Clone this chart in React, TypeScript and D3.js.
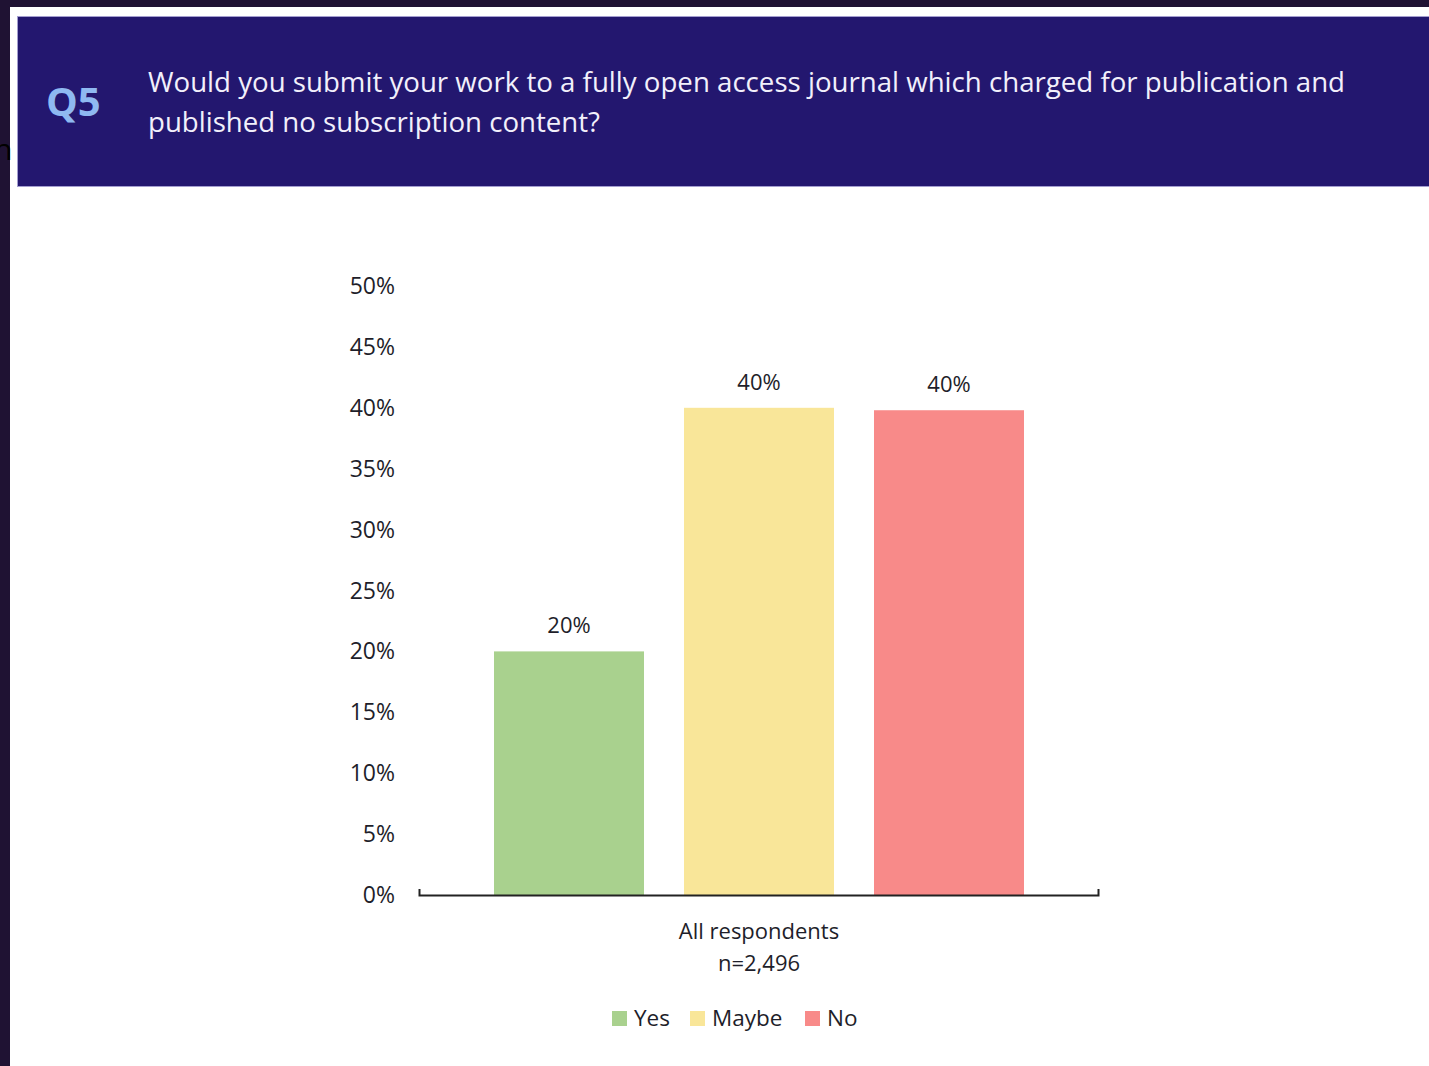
import React from "react";
import * as d3 from "d3";

const categories = ["All respondents"];
const categorySub = ["n=2,496"];
const seriesNames = ["Yes", "Maybe", "No"];
const seriesValues = [20.0, 40.0, 39.8];
const valueLabels = ["20%", "40%", "40%"];
const seriesColors = ["#a9d18e", "#f9e699", "#f88a89"];
const yTicks = [0, 5, 10, 15, 20, 25, 30, 35, 40, 45, 50];
const titleLines = [
  "Would you submit your work to a fully open access journal which charged for publication and",
  "published no subscription content?",
];
const titleWidths = [1197, 452];
const qLabel = "Q5";

const FONT = "'Open Sans', 'Noto Sans', sans-serif";
const TXT = "#1e1e2a";

export default function App() {
  const W = 1429, H = 1066;
  const y = d3.scaleLinear().domain([0, 50]).range([895, 286]);
  const x0 = d3.scaleBand<string>().domain(categories).range([419, 1099]).padding(0);
  const x1 = d3
    .scaleBand<string>()
    .domain(seriesNames)
    .range([0, x0.bandwidth()])
    .paddingInner(40 / 190)
    .paddingOuter(75 / 190);

  const legendItems = [
    { name: "Yes", sx: 612 },
    { name: "Maybe", sx: 690 },
    { name: "No", sx: 805 },
  ];

  return (
    <svg
      width={W}
      height={H}
      style={{ position: "absolute", left: 0, top: 0, background: "#fff" }}
      fontFamily={FONT}
    >
      <rect x={0} y={0} width={W} height={H} fill="#ffffff" />
      {/* dark frame */}
      <rect x={0} y={0} width={W} height={7} fill="#1f1233" />
      <rect x={0} y={0} width={10} height={H} fill="#1f1233" />
      <text x={-6} y={160} fontSize={30} fill="#000" fontFamily={FONT}>n</text>
      {/* header */}
      <rect x={17.5} y={16.5} width={W} height={170} fill="#23176f" stroke="#a49ed0" strokeWidth={1} />
      <text x={46} y={116} fontSize={40} fontWeight={700} fill="#8fb9f1">{qLabel}</text>
      {titleLines.map((t, i) => (
        <text
          key={i}
          x={148}
          y={92 + i * 40}
          fontSize={26.5}
          fill="#f2f0fb"
          textLength={titleWidths[i]}
          lengthAdjust="spacingAndGlyphs"
        >
          {t}
        </text>
      ))}

      {/* y tick labels */}
      {yTicks.map((t) => (
        <text key={t} x={395} y={y(t) + 8} fontSize={23} textAnchor="end" fill={TXT}>
          {t}%
        </text>
      ))}

      {/* bars */}
      {categories.map((c) => (
        <g key={c} transform={`translate(${x0(c)},0)`}>
          {seriesNames.map((s, i) => (
            <g key={s}>
              <rect
                x={x1(s)}
                y={y(seriesValues[i])}
                width={x1.bandwidth()}
                height={y(0) - y(seriesValues[i])}
                fill={seriesColors[i]}
              />
              <text
                x={(x1(s) as number) + x1.bandwidth() / 2}
                y={y(seriesValues[i]) - 18}
                fontSize={22}
                textAnchor="middle"
                fill={TXT}
              >
                {valueLabels[i]}
              </text>
            </g>
          ))}
        </g>
      ))}

      {/* x axis */}
      <path d={`M419.5,889 V895.5 H1098.5 V889`} fill="none" stroke="#222" strokeWidth={2} />
      {categories.map((c, i) => (
        <g key={c}>
          <text x={(x0(c) as number) + x0.bandwidth() / 2} y={939} fontSize={22} textAnchor="middle" fill={TXT}>
            {c}
          </text>
          <text x={(x0(c) as number) + x0.bandwidth() / 2} y={971} fontSize={22} textAnchor="middle" fill={TXT}>
            {categorySub[i]}
          </text>
        </g>
      ))}

      {/* legend */}
      {legendItems.map((l, i) => (
        <g key={l.name}>
          <rect x={l.sx} y={1011} width={15} height={15} fill={seriesColors[i]} />
          <text x={l.sx + 22} y={1026} fontSize={22.5} fill={TXT}>{seriesNames[i]}</text>
        </g>
      ))}
    </svg>
  );
}
